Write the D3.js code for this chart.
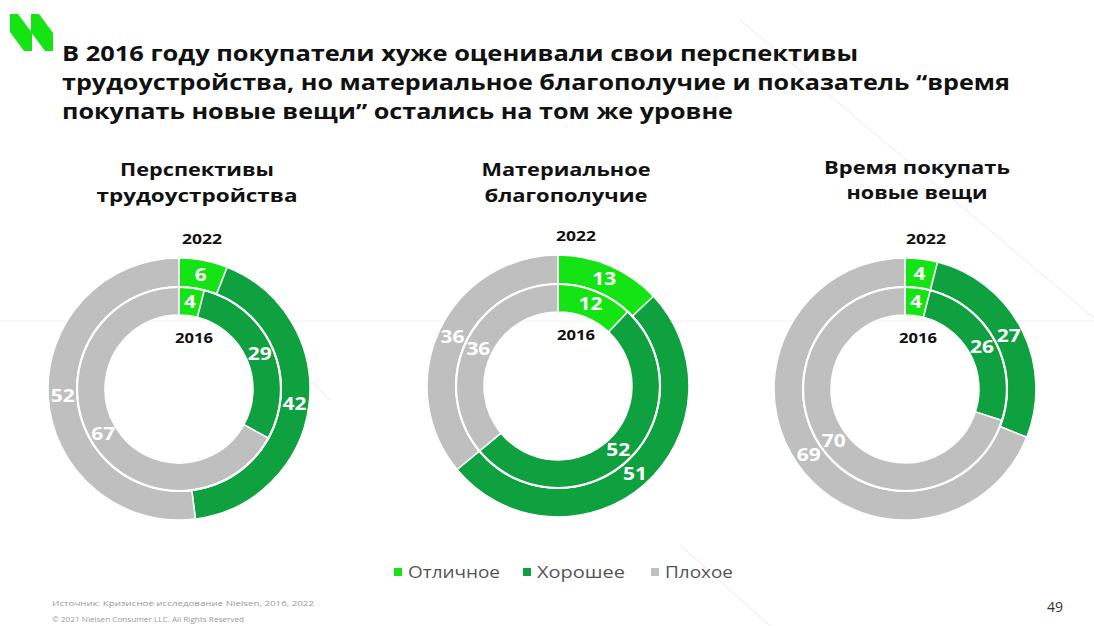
<!DOCTYPE html>
<html>
<head>
<meta charset="utf-8">
<script src="https://cdn.jsdelivr.net/npm/d3@7"></script>
<style>
  html, body { margin: 0; padding: 0; background: #fff; }
  svg { display: block; }
</style>
</head>
<body>
<svg id="chart" width="1094" height="626"></svg>
<script>
// Categories and survey shares (percent), clockwise from 12 o'clock
const categories = ["Отличное", "Хорошее", "Плохое"];
const panelTitles = [
  ["Перспективы", "трудоустройства"],
  ["Материальное", "благополучие"],
  ["Время покупать", "новые вещи"]
];
const values2022 = [
  [6, 42, 52],
  [13, 51, 36],
  [4, 27, 69]
];
const values2016 = [
  [4, 29, 67],
  [12, 52, 36],
  [4, 26, 70]
];
const yearLabels = ["2022", "2016"];
const titleLines = [
  "В 2016 году покупатели хуже оценивали свои перспективы",
  "трудоустройства, но материальное благополучие и показатель “время",
  "покупать новые вещи” остались на том же уровне"
];
const sourceText = "Источник: Кризисное исследование Nielsen, 2016, 2022";
const copyrightText = "© 2021 Nielsen Consumer LLC. All Rights Reserved";
const pageNumber = "49";

const colors = d3.scaleOrdinal().domain(categories).range(["#14e314", "#0fa03f", "#bfbfbf"]);
const FONT = "'Open Sans', 'DejaVu Sans', sans-serif";

const svg = d3.select("#chart");

// faint decorative guide lines in the background
const deco = svg.append("g").attr("stroke", "#f1f1f1").attr("stroke-width", 1.2).attr("fill", "none");
deco.append("line").attr("x1", 0).attr("y1", 321).attr("x2", 1094).attr("y2", 321);
deco.append("line").attr("x1", 740).attr("y1", 20).attr("x2", 1094).attr("y2", 318);
deco.append("line").attr("x1", 680).attr("y1", 545).attr("x2", 770).attr("y2", 626);
deco.append("line").attr("x1", 250).attr("y1", 320).attr("x2", 330).attr("y2", 400);

// logo: two slanted green bands
const logo = svg.append("g").attr("fill", "#14e314");
[10, 31].forEach(x0 => {
  logo.append("path").attr("d", d3.line()([
    [x0, 14], [x0 + 8, 14], [x0 + 22, 33], [x0 + 22, 51], [x0 + 14, 51], [x0, 32]
  ]) + "Z");
});

// stretch a text element's glyphs to a given width
function stretch(sel, target) {
  sel.attr("textLength", target).attr("lengthAdjust", "spacingAndGlyphs");
}

// headline
const titleG = svg.append("g").attr("font-family", FONT).attr("font-weight", 700).attr("fill", "#111");
const titleBase = [61, 90, 119];
const titleWidths = [796, 948, 671];
titleLines.forEach((t, i) => {
  const n = titleG.append("text").attr("x", 62).attr("y", titleBase[i]).attr("font-size", 21).text(t);
  stretch(n, titleWidths[i]);
});

// donut panels
const centers = [[179, 389], [558, 386], [905, 389]];
const headCx = [197, 566, 917];
const headBase = [[176, 202], [176, 202], [174, 199]];
const headWidths = [[154, 201], [169, 163], [186, 141]];
const rHole = 74, rMid = 102, rOuter = 131;

const pie = d3.pie().sort(null).value(d => d.value);
const arcOuter = d3.arc().innerRadius(rMid).outerRadius(rOuter);
const arcInner = d3.arc().innerRadius(rHole).outerRadius(rMid);

centers.forEach(([cx, cy], p) => {
  // panel heading
  const hg = svg.append("g").attr("font-family", FONT).attr("font-weight", 700)
    .attr("fill", "#111").attr("text-anchor", "middle");
  panelTitles[p].forEach((t, k) => {
    const h = hg.append("text").attr("x", headCx[p]).attr("y", headBase[p][k]).attr("font-size", 18).text(t);
    stretch(h, headWidths[p][k]);
  });

  const g = svg.append("g").attr("transform", `translate(${cx},${cy})`);

  const rings = [
    { data: values2022[p], arc: arcOuter },
    { data: values2016[p], arc: arcInner }
  ];
  rings.forEach(ring => {
    const slices = pie(ring.data.map((v, i) => ({ cat: categories[i], value: v })));
    g.selectAll(null).data(slices).enter().append("path")
      .attr("d", ring.arc)
      .attr("fill", d => colors(d.data.cat))
      .attr("stroke", "#fff").attr("stroke-width", 1.5);
    g.selectAll(null).data(slices).enter().append("text")
      .attr("transform", d => `translate(${ring.arc.centroid(d)})`)
      .attr("text-anchor", "middle").attr("dy", "0.36em")
      .attr("font-family", FONT).attr("font-weight", 700).attr("font-size", 17)
      .attr("fill", "#fff")
      .text(d => d.data.value)
      .each(function (d) { stretch(d3.select(this), String(d.data.value).length * 12); });
  });
  // white ring separator
  g.append("circle").attr("r", rMid).attr("fill", "none").attr("stroke", "#fff").attr("stroke-width", 2.2);

  // year labels
  const yg = g.append("g").attr("font-family", FONT).attr("font-weight", 700)
    .attr("font-size", 15).attr("fill", "#111").attr("text-anchor", "middle");
  const y1 = yg.append("text").attr("x", [23, 18, 21][p]).attr("y", -rOuter - 19)
    .attr("dy", "0.35em").text(yearLabels[0]);
  const y2 = yg.append("text").attr("x", [15, 18, 13][p]).attr("y", -51)
    .attr("dy", "0.35em").text(yearLabels[1]);
  stretch(y1, 40); stretch(y2, 38);
});

// legend
const legend = svg.append("g").attr("font-family", FONT).attr("font-size", 16.5).attr("fill", "#555");
const legendX = [394, 523, 651];
const legendW = [92, 88, 68];
categories.forEach((c, i) => {
  legend.append("rect").attr("x", legendX[i]).attr("y", 568).attr("width", 8).attr("height", 8).attr("fill", colors(c));
  const t = legend.append("text").attr("x", legendX[i] + 14).attr("y", 578).text(c);
  stretch(t, legendW[i]);
});

// footer
const foot = svg.append("g").attr("font-family", FONT).attr("fill", "#999");
const s1 = foot.append("text").attr("x", 52).attr("y", 606).attr("font-size", 7.5).text(sourceText);
stretch(s1, 262);
const s2 = foot.append("text").attr("x", 52).attr("y", 622).attr("font-size", 6.5).text(copyrightText);
stretch(s2, 192);
svg.append("text").attr("x", 1055).attr("y", 612).attr("text-anchor", "middle")
  .attr("font-family", FONT).attr("font-size", 14).attr("fill", "#333").text(pageNumber);
</script>
</body>
</html>
